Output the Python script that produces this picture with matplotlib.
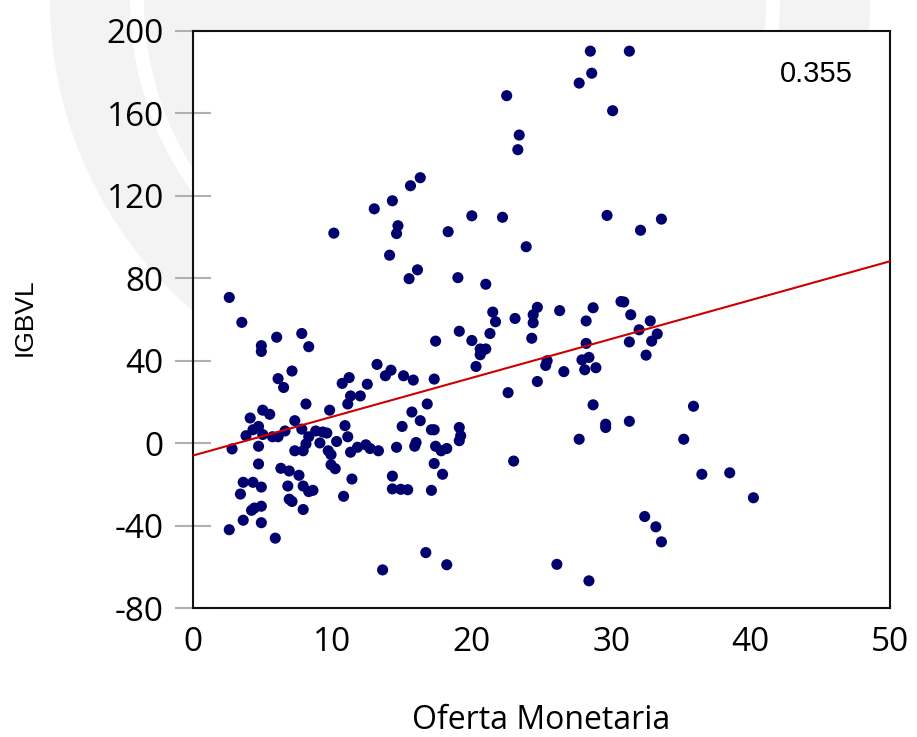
import matplotlib
matplotlib.use("Agg")
import matplotlib.pyplot as plt
from matplotlib.patches import Ellipse
import numpy as np

oferta = [28.5, 31.3, 28.6, 27.7, 22.5, 30.1, 23.4, 23.3, 16.3, 15.6, 13.0, 14.3, 14.7, 14.6, 10.1,
          18.3, 20.0, 22.2, 29.7, 33.6, 32.1, 23.9, 14.1, 16.1, 15.5, 19.0, 21.0, 2.6, 30.7, 30.9,
          21.5, 24.7, 24.4, 26.3, 28.7, 31.4, 23.1, 21.7, 24.4, 28.2, 32.8, 3.5, 32.0, 21.3, 33.3,
          7.8, 6.0, 19.1, 24.3, 31.3, 32.9, 20.0, 17.4, 28.2, 4.9, 8.3, 20.6, 21.0, 4.9, 20.6,
          32.5, 28.4, 27.9, 25.4, 25.3, 13.2, 20.3, 28.9, 28.1, 26.6, 7.1, 14.2, 13.8, 15.1, 11.2,
          15.8, 17.3, 6.1, 10.7, 12.5, 24.7, 6.5, 11.3, 12.0, 22.6, 8.1, 11.1, 16.8, 28.7, 35.9,
          9.8, 5.0, 15.7, 5.5, 4.1, 16.3, 7.3, 31.3, 10.9, 4.7, 29.6, 29.6, 15.0, 19.1, 7.8,
          4.3, 6.6, 17.1, 17.3, 8.8, 9.3, 9.6, 5.0, 3.8, 5.7, 6.1, 11.1, 19.2, 8.3, 35.2,
          27.7, 19.1, 10.3, 9.1, 8.1, 16.0, 4.7, 15.9, 12.4, 11.8, 12.7, 14.6, 17.4, 18.2, 2.8,
          13.3, 7.9, 7.3, 11.3, 17.8, 9.7, 9.9, 23.0, 4.7, 9.9, 10.2, 6.3, 17.3, 6.9, 36.5,
          38.5, 7.6, 14.3, 17.9, 11.4, 3.6, 4.3, 6.8, 7.9, 4.9, 40.2, 14.3, 14.9, 15.4, 17.1,
          8.6, 8.3, 3.4, 10.8, 6.9, 7.1, 4.9, 4.4, 4.2, 7.9, 32.4, 3.6, 4.9, 33.2, 2.6,
          33.6, 5.9, 16.7, 26.1, 18.2, 13.6, 28.4]
igbvl = [190.2, 190.2, 179.5, 174.7, 168.6, 161.3, 149.5, 142.4, 128.8, 124.9, 113.7, 117.6, 105.5, 101.7, 101.9,
         102.6, 110.3, 109.6, 110.5, 108.7, 103.3, 95.3, 91.2, 84.1, 79.8, 80.3, 77.1, 70.7, 68.7, 68.5,
         63.6, 65.9, 62.3, 64.3, 65.7, 62.3, 60.5, 58.9, 58.4, 59.3, 59.3, 58.6, 55.0, 53.2, 53.0,
         53.2, 51.4, 54.3, 50.9, 49.1, 49.5, 49.8, 49.5, 48.4, 47.3, 46.8, 45.7, 45.7, 44.5, 42.9,
         42.7, 41.6, 40.4, 40.0, 37.7, 38.2, 37.2, 36.6, 35.6, 34.7, 35.0, 35.4, 32.7, 32.7, 31.8,
         30.6, 31.1, 31.3, 29.0, 28.6, 29.9, 27.0, 22.9, 22.9, 24.5, 19.0, 19.0, 19.0, 18.6, 17.9,
         16.0, 16.0, 15.1, 14.0, 12.2, 10.9, 10.9, 10.6, 8.5, 8.1, 9.2, 7.6, 8.1, 7.6, 6.8,
         6.5, 5.9, 6.5, 6.5, 5.9, 5.4, 4.9, 4.2, 3.6, 3.1, 3.1, 3.1, 3.6, 3.1, 1.9,
         1.9, 1.2, 0.8, 0.1, -0.4, 0.3, -1.5, -1.5, -0.8, -2.0, -2.6, -2.0, -1.5, -2.6, -2.8,
         -3.7, -3.7, -3.7, -4.4, -3.7, -3.7, -5.6, -8.7, -10.1, -10.5, -12.4, -12.2, -9.9, -13.5, -15.1,
         -14.4, -15.6, -16.0, -15.1, -17.4, -19.0, -19.0, -20.8, -20.8, -21.3, -26.5, -22.2, -22.4, -22.6, -22.9,
         -22.9, -23.5, -24.7, -25.8, -27.2, -28.3, -30.6, -31.5, -32.6, -32.2, -35.6, -37.4, -38.6, -40.6, -42.0,
         -47.9, -46.1, -53.1, -58.8, -59.0, -61.5, -66.8]

fit_intercept = -6.0
fit_slope = 1.885
corr_label = "0.355"

x_ticks = [0, 10, 20, 30, 40, 50]
y_ticks = [-80, -40, 0, 40, 80, 120, 160, 200]

W, H = 917, 737
fig = plt.figure(figsize=(W / 100, H / 100), dpi=100)
fig.patch.set_facecolor("white")

# faint watermark behind the chart
bg = fig.add_axes([0, 0, 1, 1], zorder=0)
bg.set_xlim(0, W)
bg.set_ylim(H, 0)
bg.axis("off")
bg.add_patch(Ellipse((460, 0), 820, 820, color="#F3F3F3", lw=0))
bg.add_patch(Ellipse((455, 0), 636, 640, fill=False, ec="white", lw=10))

ax = fig.add_axes([0.2105, 0.175, 0.7601, 0.783], zorder=1)
ax.set_facecolor("white")

ax.scatter(oferta, igbvl, s=64, color="#00006E", edgecolors="none", zorder=3)
xl = np.array([0, 50])
ax.plot(xl, fit_intercept + fit_slope * xl, color="#CC0000", lw=1.5, zorder=4)

ax.set_xlim(0, 50)
ax.set_ylim(-80, 200)
ax.set_xticks(x_ticks)
ax.set_yticks(y_ticks)
ax.set_xticklabels([str(v) for v in x_ticks], fontsize=24, family="Open Sans")
ax.set_yticklabels([str(v) for v in y_ticks], fontsize=24, family="Open Sans")
ax.tick_params(axis="x", length=0, pad=13)
ax.tick_params(axis="y", direction="inout", length=26, color="#B0B0B0", width=1.5, pad=8)
for s in ax.spines.values():
    s.set_linewidth(1.5)
    s.set_color("#111111")

ax.text(0.894, 0.925, corr_label, transform=ax.transAxes, ha="center", va="center",
        fontsize=21, family="Liberation Sans")
fig.text(0.027, 0.57, "IGBVL", rotation=90, ha="center", va="center",
         fontsize=19, family="Liberation Sans")
fig.text(0.59, 0.023, "Oferta Monetaria", ha="center", va="center",
         fontsize=23, family="Open Sans")

fig.savefig("out.png", dpi=100)
